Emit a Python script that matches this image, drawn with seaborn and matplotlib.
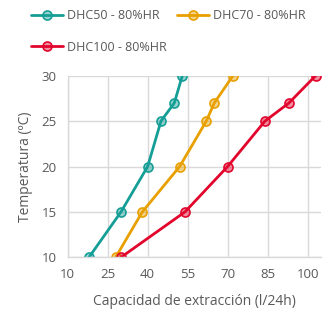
import pandas as pd
import matplotlib
matplotlib.use("Agg")
import matplotlib.pyplot as plt
import seaborn as sns
from matplotlib.colors import to_rgba

# Data
temperatura = [10, 15, 20, 25, 27, 30]
dhc50 = [18, 30, 40, 45, 50, 53]
dhc70 = [28, 38, 52, 62, 65, 72]
dhc100 = [30, 54, 70, 84, 93, 103]
series_names = ["DHC50 - 80%HR", "DHC70 - 80%HR", "DHC100 - 80%HR"]
colors = ["#159E96", "#E8A000", "#E2062D"]
x_ticks = [10, 25, 40, 55, 70, 85, 100]
y_ticks = [10, 15, 20, 25, 30]

frames = []
for name, vals in zip(series_names, [dhc50, dhc70, dhc100]):
    frames.append(pd.DataFrame({"serie": name, "capacidad": vals, "temp": temperatura}))
df = pd.concat(frames, ignore_index=True)

sns.set_style("white")
plt.rcParams["font.family"] = ["Open Sans", "DejaVu Sans"]
text_color = "#595959"
grid_color = "#D9D9D9"

fig = plt.figure(figsize=(3.31, 3.13), dpi=100)
ax = fig.add_axes([0.2045, 0.178, 0.765, 0.58])

for name, col in zip(series_names, colors):
    sub = df[df["serie"] == name]
    sns.lineplot(data=sub, x="capacidad", y="temp", ax=ax, color=col, label=name,
                 linewidth=2, marker="o", markersize=6.5,
                 markerfacecolor=to_rgba(col, 0.45), markeredgecolor=col,
                 markeredgewidth=1.2, sort=False, estimator=None)

ax.set_xlim(10, 105)
ax.set_ylim(10, 30)
ax.set_xticks(x_ticks)
ax.set_yticks(y_ticks)
ax.grid(True, color=grid_color, linewidth=1)
ax.set_axisbelow(True)
for s in ["top", "right"]:
    ax.spines[s].set_visible(False)
for s in ["left", "bottom"]:
    ax.spines[s].set_color(grid_color)
    ax.spines[s].set_linewidth(1)
ax.tick_params(length=0, labelsize=9.5, colors=text_color, pad=8)
ax.set_xlabel("Capacidad de extracción (l/24h)", fontsize=10, color=text_color, labelpad=9)
ax.set_ylabel("Temperatura (ºC)", fontsize=10, color=text_color, labelpad=6)

# legend filled row by row: 50, 70 on the first row, 100 on the second
handles, labels = ax.get_legend_handles_labels()
ax.get_legend().remove()
order = [0, 2, 1]
fig.legend([handles[i] for i in order], [labels[i] for i in order],
           loc="upper left", bbox_to_anchor=(0.07, 0.995), ncol=2,
           frameon=False, fontsize=9, labelcolor=text_color, handlelength=2.6,
           handletextpad=0.3, columnspacing=0.8, labelspacing=1.5, borderaxespad=0.2)

fig.savefig("out.png", dpi=100)
